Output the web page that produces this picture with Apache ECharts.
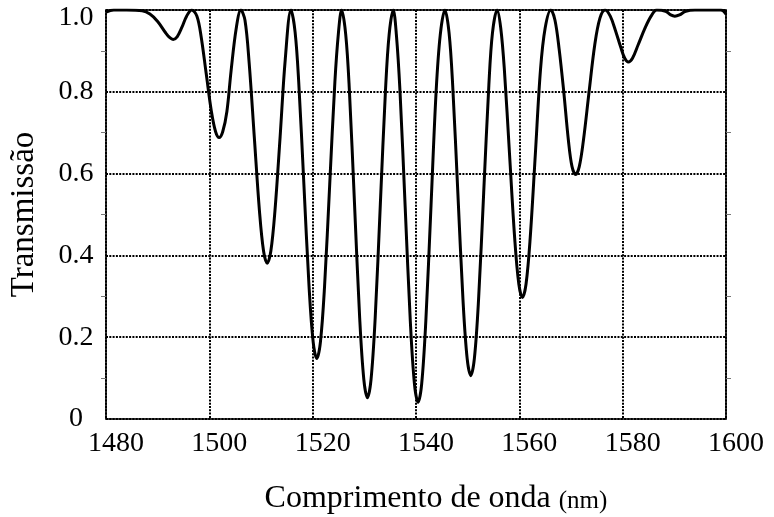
<!DOCTYPE html>
<html>
<head>
<meta charset="utf-8">
<script src="https://cdn.jsdelivr.net/npm/echarts@6/dist/echarts.min.js"></script>
<style>
html,body{margin:0;padding:0;background:#fff;}
#c{width:774px;height:517px;}
</style>
</head>
<body>
<div id="c"></div>
<script>
// wavelength (nm)
var wavelength = [
  1480, 1481.5, 1484, 1487, 1488.5, 1490, 1491.5, 1492.3, 1493.0, 1493.8, 1494.7, 1495.6, 1496.6,
  1497.6, 1498.4, 1499.4, 1500.4, 1501.2, 1501.9, 1502.6, 1503.4, 1504.2, 1505.2, 1506.1,
  1506.9, 1507.7, 1508.7, 1509.7, 1510.5, 1511.2, 1511.9, 1512.7, 1513.7, 1514.7, 1515.8,
  1516.6, 1517.3, 1518.3, 1519.3, 1520.1, 1520.8, 1521.5, 1522.3, 1523.3, 1524.3, 1525.0, 1525.6,
  1526.4, 1527.1, 1528.1, 1529.1, 1529.9, 1530.6, 1531.3, 1532.1, 1533.1, 1534.1, 1534.8, 1535.6,
  1536.2, 1536.9, 1537.9, 1538.9, 1539.7, 1540.4, 1541.1, 1541.9, 1542.9, 1543.9, 1544.7, 1545.6,
  1546.4, 1547.1, 1548.1, 1549.1, 1549.9, 1550.6, 1551.3, 1552.1, 1553.1, 1554.1, 1554.8, 1555.7,
  1556.4, 1557.1, 1558.1, 1559.1, 1559.9, 1560.6, 1561.3, 1562.1, 1563.1, 1564.1, 1565.0, 1566.1,
  1566.9, 1567.7, 1568.6, 1569.5, 1570.2, 1570.9, 1571.6, 1572.4, 1573.5, 1574.6, 1575.6, 1576.6,
  1577.6, 1578.6, 1579.6, 1580.4, 1581.1, 1581.9, 1583.0, 1584.3, 1585.5, 1586.6,
  1588.3, 1589.3, 1590.1, 1591.0, 1592.2, 1594, 1599, 1600
];
// transmission
var transmission = [
  0.995, 1.0, 1.0, 0.998, 0.99, 0.972, 0.945, 0.933, 0.928, 0.935, 0.958, 0.985, 1.0,
  0.985, 0.936, 0.844, 0.752, 0.703, 0.688, 0.703, 0.752, 0.85, 0.955, 1.0,
  0.975, 0.872, 0.69, 0.509, 0.41, 0.381, 0.41, 0.509, 0.69, 0.88, 1.0,
  0.946, 0.824, 0.574, 0.324, 0.188, 0.148, 0.188, 0.324, 0.574, 0.824, 0.946, 1.0,
  0.94, 0.805, 0.526, 0.247, 0.097, 0.052, 0.097, 0.247, 0.526, 0.805, 0.94, 1.0,
  0.94, 0.802, 0.52, 0.239, 0.086, 0.041, 0.086, 0.239, 0.52, 0.802, 0.94, 1.0,
  0.944, 0.816, 0.553, 0.29, 0.148, 0.106, 0.148, 0.29, 0.553, 0.816, 0.944, 1.0,
  0.956, 0.855, 0.648, 0.442, 0.33, 0.297, 0.33, 0.442, 0.648, 0.855, 0.956, 1.0,
  0.975, 0.905, 0.8, 0.681, 0.617, 0.598, 0.617, 0.681, 0.8, 0.915, 0.98, 1.0,
  0.985, 0.95, 0.91, 0.882, 0.873, 0.882, 0.915, 0.955, 0.985, 1.0,
  0.997, 0.988, 0.985, 0.988, 0.997, 1.0, 1.0, 0.99
];
var xTicks = [1480, 1500, 1520, 1540, 1560, 1580, 1600];
var yTicks = ['0', '0.2', '0.4', '0.6', '0.8', '1.0'];
var xTitle = 'Comprimento de onda';
var xUnit = '(nm)';
var yTitle = 'Transmissão';

var FONT = "'Liberation Serif', 'Times New Roman', serif";
var data = wavelength.map(function (w, i) { return [w, transmission[i]]; });

var chart = echarts.init(document.getElementById('c'), null, {renderer: 'canvas'});
var gridDot = {show: true, lineStyle: {color: '#000', width: 2, type: [2, 1.3]}};
chart.setOption({
  backgroundColor: '#fff',
  animation: false,
  grid: {left: 106, right: 48, top: 10, bottom: 98, containLabel: false, outerBoundsMode: 'none'},
  xAxis: [{
    type: 'value', min: 1480, max: 1600, interval: 20, position: 'bottom',
    axisLine: {show: true, onZero: false, lineStyle: {color: '#000', width: 1.6}},
    axisTick: {show: false},
    splitLine: gridDot,
    axisLabel: {
      fontFamily: FONT, fontSize: 28, color: '#000', margin: 11,
      padding: [0, 0, 0, 20],
      formatter: function (v) { return xTicks.indexOf(v) >= 0 ? String(v) : ''; }
    },
    name: '{a|' + xTitle + '} {b|' + xUnit + '}', nameLocation: 'middle', nameGap: 64,
    nameTextStyle: {
      fontFamily: FONT, fontSize: 32, color: '#000', padding: [0, 0, 0, 40],
      rich: {
        a: {fontFamily: FONT, fontSize: 32, color: '#000'},
        b: {fontFamily: FONT, fontSize: 25, color: '#000', padding: [4, 0, 0, 0]}
      }
    }
  }, {
    type: 'value', min: 1480, max: 1600, interval: 20, position: 'top',
    axisLine: {show: true, onZero: false, lineStyle: {color: '#000', width: 1.6}},
    axisTick: {show: false}, axisLabel: {show: false}, splitLine: {show: false}
  }],
  yAxis: [{
    type: 'value', min: 0, max: 1, interval: 0.2, position: 'left',
    axisLine: {show: true, onZero: false, lineStyle: {color: '#000', width: 1.6}},
    axisTick: {show: false},
    minorTick: {show: true, splitNumber: 2, length: 5, lineStyle: {color: '#777', width: 1}},
    splitLine: gridDot,
    axisLabel: {
      fontFamily: FONT, fontSize: 28, color: '#000', margin: 30, align: 'center',
      formatter: function (v) {
        var s = yTicks[Math.round(v * 5)];
        return v >= 0.999 ? '{t|' + s + '}' : s;
      },
      rich: {t: {fontFamily: FONT, fontSize: 28, color: '#000', padding: [16, 0, 0, 0]}}
    },
    name: yTitle, nameLocation: 'middle', nameGap: 65, nameRotate: 90,
    nameTextStyle: {fontFamily: FONT, fontSize: 33, color: '#000'}
  }, {
    type: 'value', min: 0, max: 1, interval: 0.2, position: 'right',
    axisLine: {show: true, onZero: false, lineStyle: {color: '#000', width: 1.6}},
    axisTick: {show: false},
    minorTick: {show: true, splitNumber: 2, length: 5, lineStyle: {color: '#777', width: 1}},
    axisLabel: {show: false}, splitLine: {show: false}
  }],
  series: [{
    type: 'line', data: data, xAxisIndex: 0, yAxisIndex: 0,
    showSymbol: false, smooth: 0.35, clip: true,
    lineStyle: {color: '#000', width: 3}
  }]
});
</script>
</body>
</html>
